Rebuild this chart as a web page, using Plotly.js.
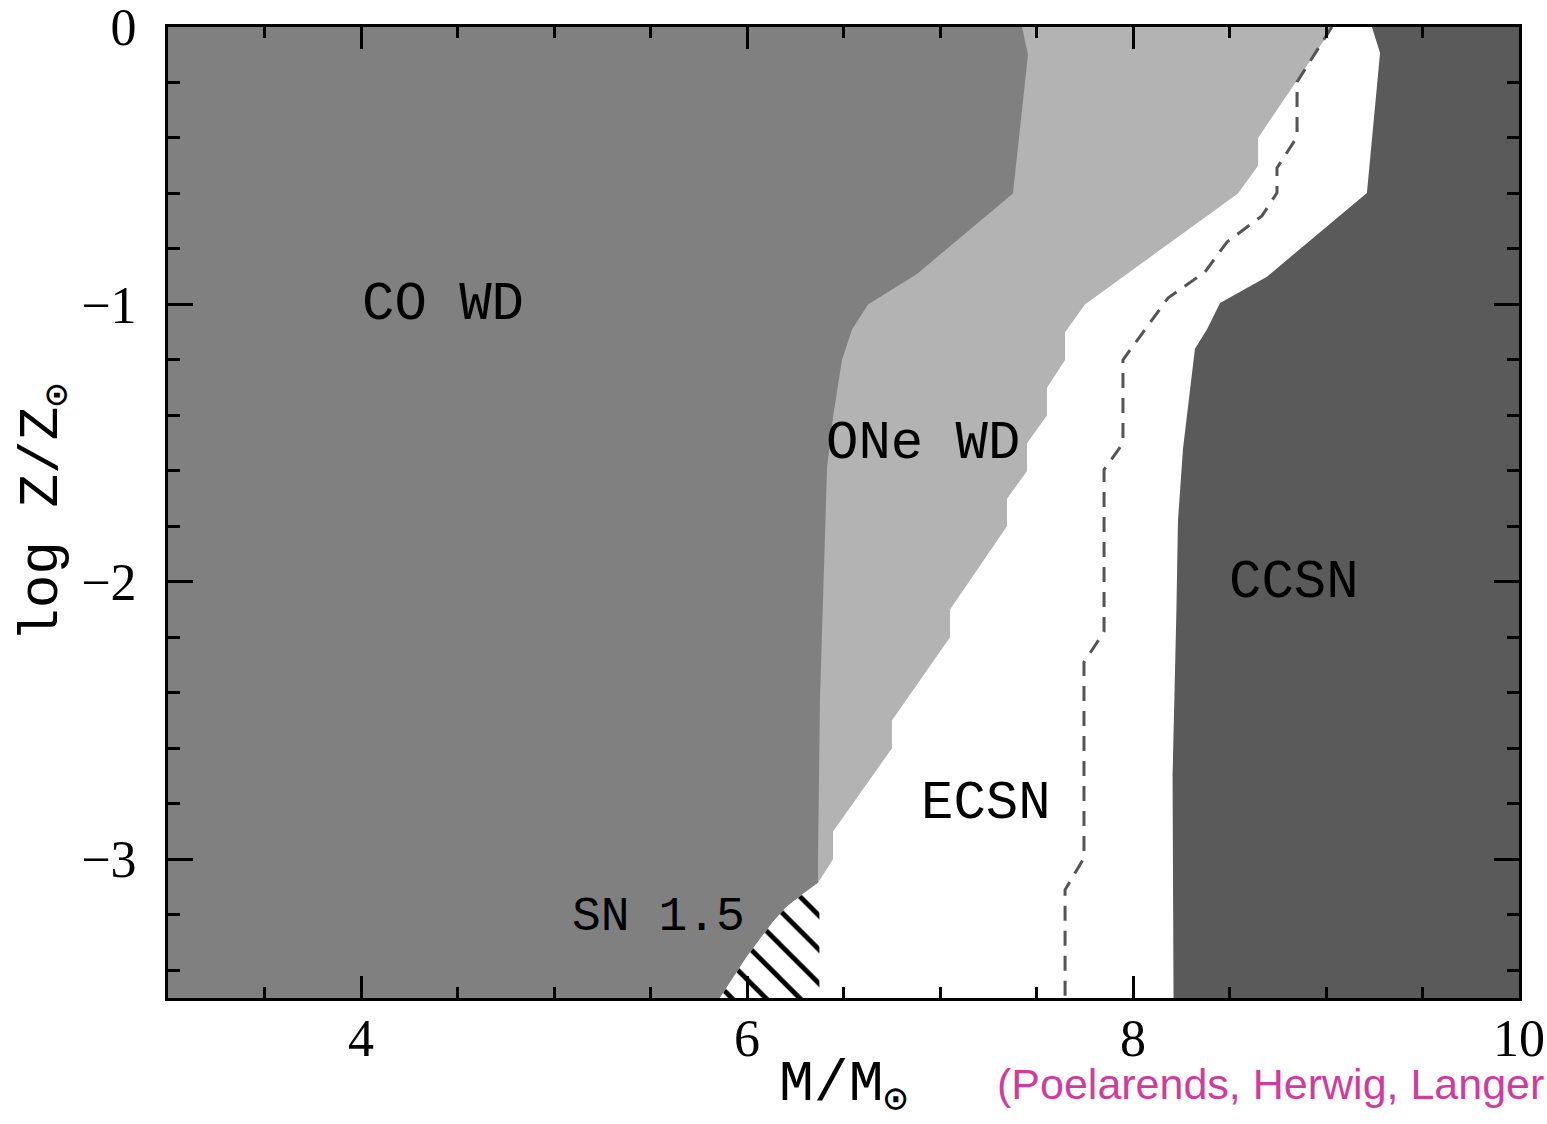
<!DOCTYPE html>
<html>
<head>
<meta charset="utf-8">
<script src="https://cdn.plot.ly/plotly-3.0.1.min.js"></script>
<style>html,body{margin:0;padding:0;background:#fff;}#chart{width:1547px;height:1124px;}</style>
</head>
<body>
<div id="chart"></div>
<script>
// Axis ranges
const xRange = [3, 10];
const yRange = [-3.5, 0];

// CO WD / ONe WD boundary (M, log Z)
const coOneX = [7.425, 7.456, 7.378, 6.881, 6.627, 6.544, 6.492, 6.446, 6.415, 6.378, 6.368, 6.368];
const coOneY = [0, -0.10, -0.60, -0.89, -1.0, -1.09, -1.20, -1.405, -1.585, -2.425, -3.0, -3.085];

// CO WD lower edge (towards SN 1.5 / ECSN)
const coEdgeX = [6.368, 6.30, 6.20, 6.13, 6.0, 5.86];
const coEdgeY = [-3.085, -3.12, -3.175, -3.23, -3.35, -3.5];

// ONe WD / ECSN boundary
const oneEcX = [9.036, 8.648, 8.648, 8.544, 7.751, 7.648, 7.648, 7.554, 7.554, 7.451, 7.451, 7.347, 7.347, 7.052, 7.052, 6.751, 6.751, 6.446, 6.446, 6.368];
const oneEcY = [0, -0.40, -0.50, -0.60, -1.0, -1.10, -1.20, -1.30, -1.40, -1.50, -1.60, -1.70, -1.80, -2.10, -2.20, -2.50, -2.60, -2.90, -3.0, -3.085];

// ECSN / CCSN boundary
const ecCcX = [9.238, 9.280, 9.212, 8.694, 8.451, 8.383, 8.321, 8.295, 8.259, 8.233, 8.225, 8.205, 8.21];
const ecCcY = [0, -0.094, -0.598, -0.90, -0.995, -1.09, -1.16, -1.31, -1.52, -1.78, -2.10, -2.70, -3.5];

// SN 1.5 hatched region
const hatchX = [6.30, 6.375, 6.375, 5.86, 6.0, 6.13, 6.20, 6.30];
const hatchY = [-3.12, -3.10, -3.5, -3.5, -3.35, -3.23, -3.175, -3.12];

// Dashed line
const dashX = [9.03, 8.850, 8.850, 8.746, 8.746, 8.668, 8.487, 8.373, 8.181, 7.948, 7.948, 7.850, 7.850, 7.746, 7.746, 7.648, 7.648];
const dashY = [0, -0.198, -0.396, -0.508, -0.598, -0.681, -0.775, -0.883, -0.977, -1.20, -1.50, -1.596, -2.18, -2.29, -2.995, -3.11, -3.5];

// Region labels
const labelText = ["CO WD", "ONe WD", "ECSN", "CCSN", "SN 1.5"];
const labelX = [4.425, 6.912, 7.238, 8.834, 5.539];
const labelY = [-1.0, -1.503, -2.80, -2.004, -3.207];
const labelSize = [54, 54, 54, 54, 48];

const colors = {co: "#808080", one: "#b3b3b3", ecsn: "#ffffff", ccsn: "#5a5a5a"};

function regionRightOf(bx, by) {
  return {
    x: bx.concat([xRange[1], xRange[1]]),
    y: by.concat([yRange[0], yRange[1]])
  };
}

const oneReg = regionRightOf(coOneX.concat(coEdgeX.slice(1)), coOneY.concat(coEdgeY.slice(1)));
const ecReg = regionRightOf(oneEcX.concat(coEdgeX.slice(1)), oneEcY.concat(coEdgeY.slice(1)));
const ccReg = regionRightOf(ecCcX, ecCcY);

const baseFill = {type: "scatter", mode: "lines", fill: "toself", line: {width: 0}, hoverinfo: "skip", showlegend: false};

const traces = [
  Object.assign({}, baseFill, {x: oneReg.x, y: oneReg.y, fillcolor: colors.one}),
  Object.assign({}, baseFill, {x: ecReg.x, y: ecReg.y, fillcolor: colors.ecsn}),
  Object.assign({}, baseFill, {x: ccReg.x, y: ccReg.y, fillcolor: colors.ccsn}),
  Object.assign({}, baseFill, {x: hatchX, y: hatchY, fillcolor: "#ffffff",
    fillpattern: {shape: "\\", fgcolor: "#000000", bgcolor: "#ffffff", size: 24, solidity: 0.2, fillmode: "replace"}}),
  {type: "scatter", mode: "lines", x: dashX, y: dashY, line: {color: "#555555", width: 3, dash: "15px,10px"}, hoverinfo: "skip", showlegend: false}
];

const monoFont = "Liberation Mono, Courier New, monospace";
const serifFont = "Liberation Serif, DejaVu Serif, serif";

const annotations = labelText.map((t, i) => ({
  x: labelX[i], y: labelY[i], xref: "x", yref: "y", text: t, showarrow: false,
  xanchor: "center", yanchor: "middle", font: {family: monoFont, size: labelSize[i], color: "#000"}
}));
annotations.push({
  xref: "paper", yref: "paper", x: 1.0193, y: -0.089, xanchor: "right", yanchor: "middle",
  text: "(Poelarends, Herwig, Langer", showarrow: false, borderpad: 0,
  font: {family: "Liberation Sans, Arial, sans-serif", size: 43, color: "rgb(208,60,158)"}
});

const axisCommon = {
  showgrid: false, zeroline: false, showline: true, linewidth: 3, linecolor: "#000",
  mirror: "ticks", ticks: "inside", tickwidth: 3, tickcolor: "#000",
  ticklabeloverflow: "allow",
  tickfont: {family: serifFont, size: 52, color: "#000"}
};

const layout = {
  width: 1547, height: 1124,
  margin: {l: 168, r: 28, t: 27, b: 126},
  paper_bgcolor: "#ffffff",
  plot_bgcolor: colors.co,
  xaxis: Object.assign({}, axisCommon, {
    range: xRange, tick0: 0, dtick: 2, ticklen: 22, ticklabelstandoff: -7,
    minor: {dtick: 0.5, ticklen: 11, tickwidth: 3, tickcolor: "#000", ticks: "inside", showgrid: false},
    title: {text: "M/M<sub>⊙</sub>", font: {family: monoFont, size: 58, color: "#000"}, standoff: 4}
  }),
  yaxis: Object.assign({}, axisCommon, {
    range: yRange, tick0: 0, dtick: 1, ticklen: 25, ticklabelstandoff: 18,
    minor: {dtick: 0.2, ticklen: 12, tickwidth: 3, tickcolor: "#000", ticks: "inside", showgrid: false},
    title: {text: "log Z/Z<sub>⊙</sub>", font: {family: monoFont, size: 56, color: "#000"}, standoff: 6}
  }),
  annotations: annotations
};

Plotly.newPlot("chart", traces, layout, {displayModeBar: false, staticPlot: true});
</script>
</body>
</html>
